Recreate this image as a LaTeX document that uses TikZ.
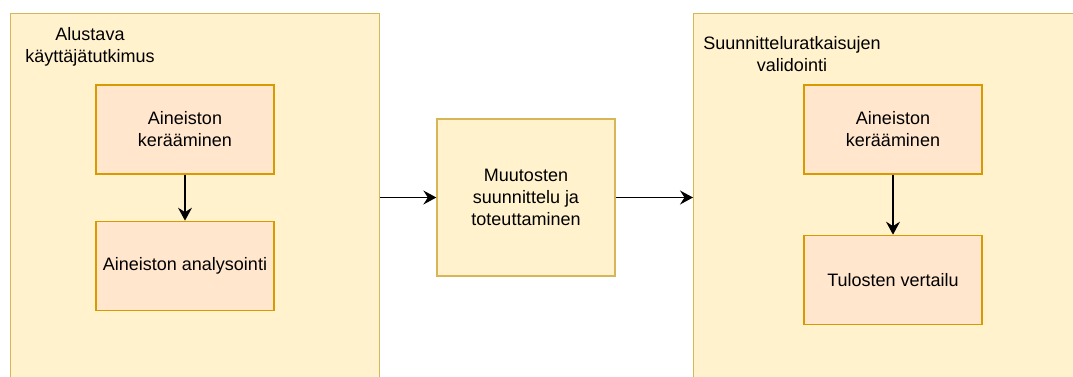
\documentclass[tikz,border=0pt]{standalone}
\usepackage{fontspec}
\setmainfont{Liberation Sans}
\usetikzlibrary{positioning,arrows.meta}
\definecolor{paleyellow}{HTML}{FFF2CC}
\definecolor{goldline}{HTML}{D6B656}
\definecolor{paleorange}{HTML}{FFE6CC}
\definecolor{orangeline}{HTML}{D79B00}

\begin{document}
\begin{tikzpicture}[x=1pt, y=-1pt,
  every node/.style={font=\fontsize{18}{22}\selectfont},
  phase/.style={rectangle, draw=goldline, fill=paleyellow, line width=1pt, anchor=north west, minimum width=#1, minimum height=420pt, inner sep=0pt},
  task/.style={rectangle, draw=orangeline, fill=paleorange, line width=1.3pt, minimum width=178pt, minimum height=89pt, align=center, inner sep=2pt},
  flow/.style={-{Stealth[length=13pt, width=14pt, inset=4.5pt]}, line width=1.4pt}]

\useasboundingbox (0,0) rectangle (1073,376);
\clip (0,0) rectangle (1073,376);

% PHASES

\node [phase=369pt] (tutkimus) at (10,13) {};
\node [align=center] (tutkimus-titulo) at (90,47) {Alustava\\käyttäjätutkimus};

\node [phase=420pt] (validointi) at (693,13) {};
\node [align=center] (validointi-titulo) at (792,54) {Suunnitteluratkaisujen\\validointi};

% TASKS

\node [task] (keraaminen-1) at (185,129.5) {Aineiston\\kerääminen};
\node [task, below=46pt of keraaminen-1] (analysointi) {Aineiston analysointi};

\node [task, fill=paleyellow, draw=goldline, minimum height=157pt] (muutokset) at (526,197.5) {Muutosten\\suunnittelu ja\\toteuttaminen};

\node [task] (keraaminen-2) at (893,129.5) {Aineiston\\kerääminen};
\node [task, below=60pt of keraaminen-2] (vertailu) {Tulosten vertailu};

% FLOW

\draw [flow] (keraaminen-1) -- (analysointi);
\draw [flow] (keraaminen-2) -- (vertailu);
\draw [flow] (tutkimus.east |- muutokset.west) -- (muutokset.west);
\draw [flow] (muutokset.east) -- (validointi.west |- muutokset.east);

\end{tikzpicture}
\end{document}
